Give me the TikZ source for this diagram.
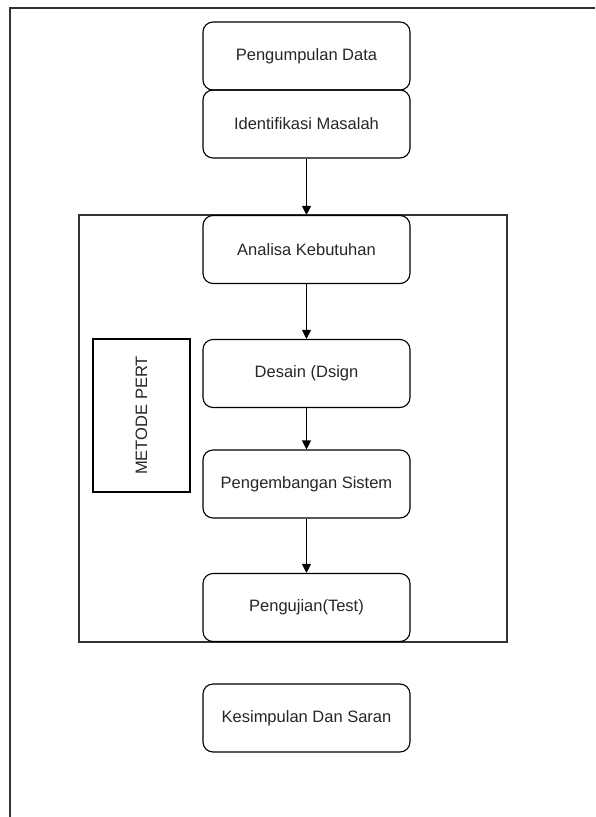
\documentclass[tikz,border=0pt]{standalone}
\usepackage{fontspec}
\setmainfont{Liberation Sans}
\usetikzlibrary{arrows.meta}

\begin{document}
\begin{tikzpicture}[x=1pt, y=-1pt,
    langkah/.style={draw, rounded corners=10pt, line width=1.1pt, minimum width=207pt,
      minimum height=68pt, inner sep=0pt, font=\fontsize{16.5}{19}\selectfont, text=black!85},
    panah/.style={line width=1.1pt, -{Triangle[length=9pt, width=9pt]}}]
  \useasboundingbox (0,0) rectangle (595,817);
  % tepi halaman
  \draw[line width=2pt, black!80] (595,8) -- (10,8) -- (10,817);
  % kotak metode
  \draw[line width=1.3pt, black!80] (79,215) rectangle (507,642);
  \node[draw, line width=1.2pt, rotate=90, minimum width=153pt, minimum height=97pt,
    inner sep=0pt, font=\fontsize{16.5}{19}\selectfont, text=black!85] (pert) at (141.5,415.5) {METODE PERT};
  \foreach \n/\y/\t in {pd/56/{Pengumpulan Data}, im/124/{Identifikasi Masalah},
      ak/249.5/{Analisa Kebutuhan}, ds/373.5/{Desain (Dsign}, ps/484/{Pengembangan Sistem},
      pu/607.5/{Pengujian(Test)}, ks/718/{Kesimpulan Dan Saran}}{
    \node[langkah] (\n) at (306.5,\y) {\t};
  }
  \draw[panah] (im) -- (ak);
  \draw[panah] (ak) -- (ds);
  \draw[panah] (ds) -- (ps);
  \draw[panah] (ps) -- (pu);
\end{tikzpicture}
\end{document}
